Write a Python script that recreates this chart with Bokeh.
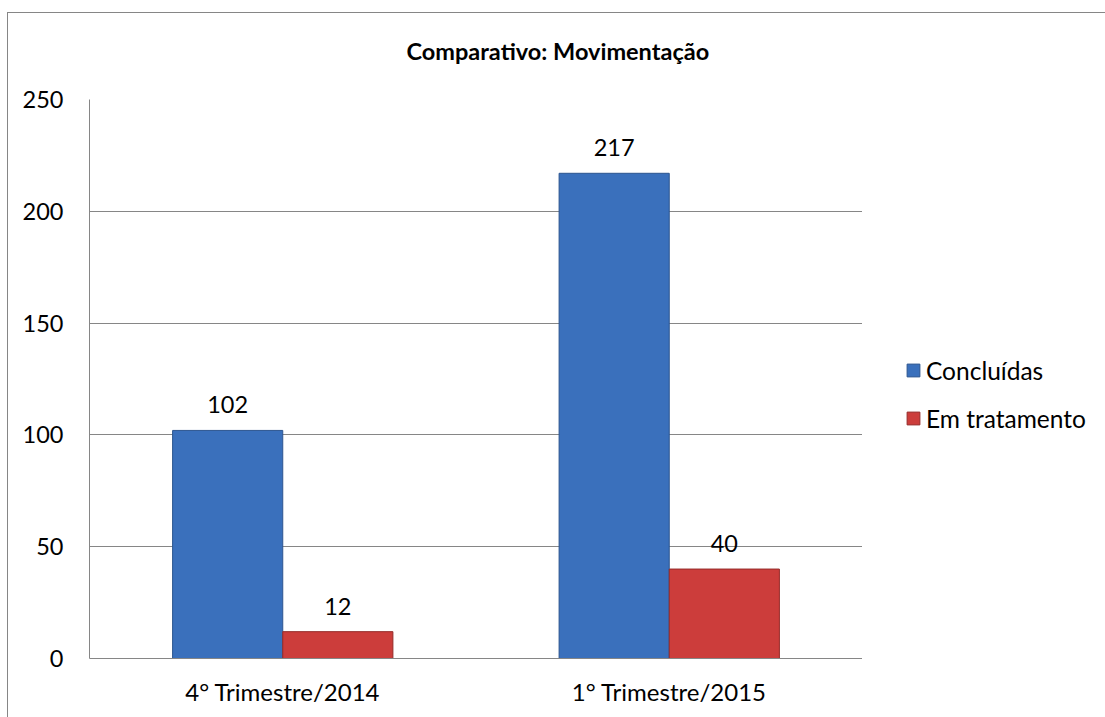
from bokeh.plotting import figure
from bokeh.layouts import row
from bokeh.models import (ColumnDataSource, FactorRange, LabelSet, Legend, LegendItem,
                          Title, FixedTicker)
from bokeh.core.properties import value
from bokeh.transform import dodge
from bokeh.embed import file_html
from bokeh.resources import INLINE

categories = ["4° Trimestre/2014", "1° Trimestre/2015"]
concluidas = [102, 217]
em_tratamento = [12, 40]
series_names = ["Concluídas", "Em tratamento"]
y_ticks = [0, 50, 100, 150, 200, 250]
title_text = "Comparativo: Movimentação"

FONT = "Lato"
GRID = "#868686"
BLUE = "#3a70bc"
BLUE_EDGE = "#2c558f"
RED = "#cc3d3b"
RED_EDGE = "#952b29"

src = ColumnDataSource(dict(cat=categories, c=concluidas, e=em_tratamento,
                            cl=[str(v) for v in concluidas],
                            el=[str(v) for v in em_tratamento]))

# ---- main chart ----
p = figure(x_range=FactorRange(*categories, range_padding=0, factor_padding=0),
           y_range=(0, 250), width=854, height=704,
           output_backend="svg", toolbar_location=None,
           min_border_left=81, min_border_right=0, min_border_top=86, min_border_bottom=59)
p.outline_line_color = None
p.background_fill_color = "white"

bw = 0.285
off = 0.1425
p.vbar(x=dodge("cat", -off, range=p.x_range), top="c", width=bw, source=src,
       fill_color=BLUE, line_color=BLUE_EDGE, line_width=1)
p.vbar(x=dodge("cat", off, range=p.x_range), top="e", width=bw, source=src,
       fill_color=RED, line_color=RED_EDGE, line_width=1)

lab_style = dict(text_font=value(FONT), text_font_size="23.5px", text_color="black",
                 text_align="center", text_baseline="alphabetic", y_offset=17)
p.add_layout(LabelSet(x=dodge("cat", -off, range=p.x_range), y="c", text="cl",
                      source=src, **lab_style))
p.add_layout(LabelSet(x=dodge("cat", off, range=p.x_range), y="e", text="el",
                      source=src, **lab_style))

p.yaxis.ticker = FixedTicker(ticks=y_ticks)
for ax in (p.xaxis[0], p.yaxis[0]):
    ax.axis_line_color = GRID
    ax.major_tick_line_color = None
    ax.minor_tick_line_color = None
    ax.major_label_text_font = FONT
    ax.major_label_text_color = "black"
p.yaxis.major_label_text_font_size = "23.5px"
p.xaxis.major_label_text_font_size = "24px"
p.yaxis.major_label_standoff = 20
p.xaxis.major_label_standoff = 12
p.ygrid.grid_line_color = GRID
p.xgrid.grid_line_color = None

# blank spacer between title and plot area (closest to the frame), then the title
p.add_layout(Title(text=" ", text_font_size="1px", standoff=22, text_color="white"), "above")
p.add_layout(Title(text=title_text, align="left", offset=317, standoff=20,
                   vertical_align="bottom",
                   text_font=FONT, text_font_size="23.5px", text_font_style="bold",
                   text_color="black"), "above")

# ---- legend panel ----
lg = figure(width=243, height=704, output_backend="svg", toolbar_location=None,
            x_axis_type=None, y_axis_type=None, x_range=(0, 1), y_range=(0, 1),
            min_border_left=0, min_border_right=0, min_border_top=0, min_border_bottom=0)
lg.outline_line_color = None
lg.xgrid.grid_line_color = None
lg.ygrid.grid_line_color = None
# legend swatches (their bars fall outside this panel's range, only the swatch shows)
g1 = lg.vbar(x="c", top="c", width=0.1, source=src, fill_color=BLUE, line_color=BLUE_EDGE)
g2 = lg.vbar(x="e", top="e", width=0.1, source=src, fill_color=RED, line_color=RED_EDGE)
legend = Legend(items=[LegendItem(label=series_names[0], renderers=[g1]),
                       LegendItem(label=series_names[1], renderers=[g2])],
                location=(43, 225), padding=0, margin=0, spacing=18,
                glyph_width=16, glyph_height=16, label_height=30, label_standoff=5,
                label_text_font=FONT, label_text_font_size="24.5px",
                label_text_color="black", border_line_color=None,
                background_fill_alpha=0)
lg.add_layout(legend, "center")

layout = row(p, lg, spacing=0)
layout.styles = {"margin-top": "12px", "margin-left": "7px",
                 "border-top": "1px solid #868686", "border-left": "1px solid #868686"}

open("out.html", "w").write(file_html(layout, INLINE))
